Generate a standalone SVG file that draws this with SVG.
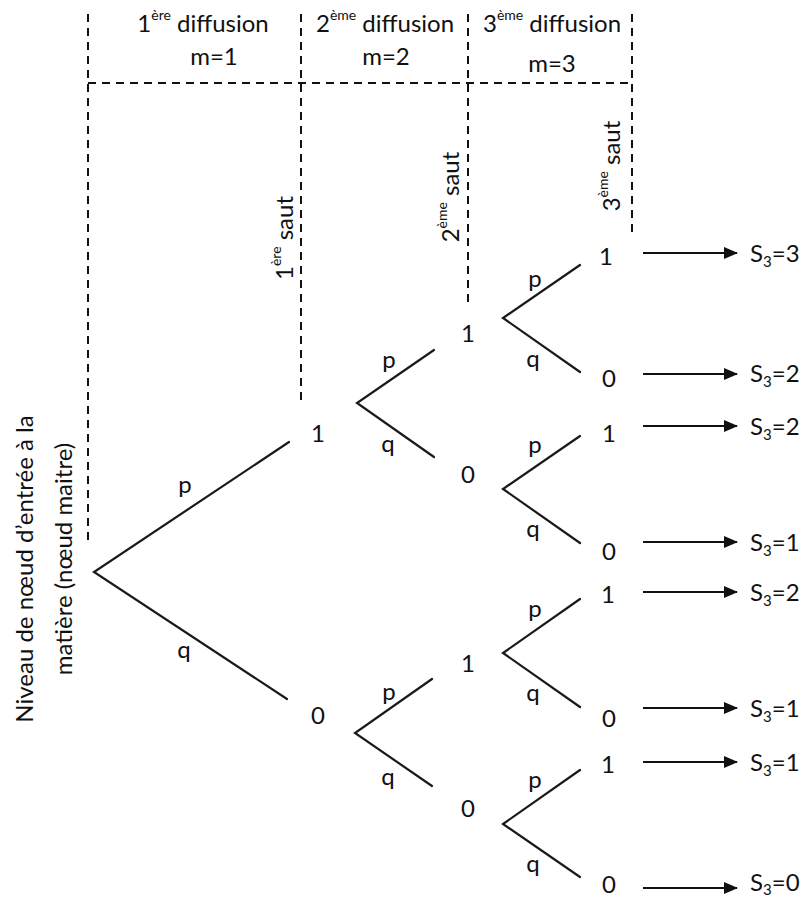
<svg xmlns="http://www.w3.org/2000/svg" width="803" height="899" viewBox="0 0 803 899">
<style>
text { font-family: Lato, "Liberation Sans", sans-serif; font-size: 24px; fill: #111; }
.sup { font-size: 14px; }
.sub { font-size: 15px; }
.dash { stroke: #111; stroke-width: 2; stroke-dasharray: 8 6; fill: none; }
.br { stroke: #1a1a1a; stroke-width: 2.2; fill: none; stroke-linecap: round; }
.ar { stroke: #111; stroke-width: 2.2; fill: none; }
</style>
<defs>
<marker id="ah" markerUnits="userSpaceOnUse" markerWidth="14" markerHeight="12" refX="13" refY="6" orient="auto">
<path d="M0,0 L14,6 L0,12 z" fill="#111"/>
</marker>
</defs>
<rect width="803" height="899" fill="#fff"/>

<g id="grid">
<line class="dash" x1="88" y1="14" x2="88" y2="543"/>
<line class="dash" x1="301" y1="14" x2="301" y2="405"/>
<line class="dash" x1="468" y1="14" x2="468" y2="305"/>
<line class="dash" x1="632" y1="14" x2="632" y2="233"/>
<line class="dash" x1="88" y1="83" x2="632" y2="83"/>
</g>

<g id="headers">
<text x="203" y="32" text-anchor="middle">1<tspan class="sup" dy="-12">ère</tspan><tspan dy="12"> diffusion</tspan></text>
<text x="385" y="32" text-anchor="middle">2<tspan class="sup" dy="-12">ème</tspan><tspan dy="12"> diffusion</tspan></text>
<text x="552" y="32" text-anchor="middle">3<tspan class="sup" dy="-12">ème</tspan><tspan dy="12"> diffusion</tspan></text>
<text x="214" y="65" text-anchor="middle">m=1</text>
<text x="386" y="65" text-anchor="middle">m=2</text>
<text x="552" y="72" text-anchor="middle">m=3</text>
<text transform="translate(293,238) rotate(-90)" text-anchor="middle">1<tspan class="sup" dy="-12">ère</tspan><tspan dy="12"> saut</tspan></text>
<text transform="translate(459,197) rotate(-90)" text-anchor="middle">2<tspan class="sup" dy="-12">ème</tspan><tspan dy="12"> saut</tspan></text>
<text transform="translate(620,166) rotate(-90)" text-anchor="middle">3<tspan class="sup" dy="-12">ème</tspan><tspan dy="12"> saut</tspan></text>
<text transform="translate(33,569) rotate(-90)" text-anchor="middle">Niveau de nœud d’entrée à la</text>
<text transform="translate(72,559) rotate(-90)" text-anchor="middle">matière (nœud maitre)</text>
</g>

<g id="connectors">
<polyline class="br" points="289,442 94,572 287,699"/>
<polyline class="br" points="434,350 357,403 434,457"/>
<polyline class="br" points="432,679 355,733 432,786"/>
<polyline class="br" points="580,265 503,318 580,372"/>
<polyline class="br" points="580,436 503,489 580,543"/>
<polyline class="br" points="580,599 503,653 580,707"/>
<polyline class="br" points="580,770 503,824 580,877"/>
<line class="ar" x1="643" y1="253" x2="737" y2="253" marker-end="url(#ah)"/>
<line class="ar" x1="643" y1="374" x2="737" y2="374" marker-end="url(#ah)"/>
<line class="ar" x1="643" y1="426" x2="737" y2="426" marker-end="url(#ah)"/>
<line class="ar" x1="643" y1="542" x2="737" y2="542" marker-end="url(#ah)"/>
<line class="ar" x1="643" y1="592" x2="737" y2="592" marker-end="url(#ah)"/>
<line class="ar" x1="643" y1="708" x2="737" y2="708" marker-end="url(#ah)"/>
<line class="ar" x1="643" y1="762" x2="737" y2="762" marker-end="url(#ah)"/>
<line class="ar" x1="643" y1="888" x2="737" y2="888" marker-end="url(#ah)"/>
</g>

<g id="branch-labels" text-anchor="middle">
<text x="185" y="493">p</text>
<text x="184" y="658">q</text>
<text x="389" y="368">p</text>
<text x="388" y="452">q</text>
<text x="389" y="700">p</text>
<text x="388" y="785">q</text>
<text x="535" y="287">p</text>
<text x="533" y="367">q</text>
<text x="535" y="453">p</text>
<text x="533" y="537">q</text>
<text x="535" y="617">p</text>
<text x="533" y="701">q</text>
<text x="535" y="788">p</text>
<text x="533" y="872">q</text>
</g>

<g id="n1-1"><text x="318" y="442" text-anchor="middle">1</text></g>
<g id="n1-0"><text x="318" y="724" text-anchor="middle">0</text></g>
<g id="n2-11"><text x="468" y="342" text-anchor="middle">1</text></g>
<g id="n2-10"><text x="468" y="483" text-anchor="middle">0</text></g>
<g id="n2-01"><text x="468" y="672" text-anchor="middle">1</text></g>
<g id="n2-00"><text x="468" y="817" text-anchor="middle">0</text></g>
<g id="n3-111"><text x="606" y="265" text-anchor="middle">1</text></g>
<g id="n3-110"><text x="609" y="387" text-anchor="middle">0</text></g>
<g id="n3-101"><text x="609" y="442" text-anchor="middle">1</text></g>
<g id="n3-100"><text x="609" y="560" text-anchor="middle">0</text></g>
<g id="n3-011"><text x="608" y="603" text-anchor="middle">1</text></g>
<g id="n3-010"><text x="609" y="727" text-anchor="middle">0</text></g>
<g id="n3-001"><text x="608" y="773" text-anchor="middle">1</text></g>
<g id="n3-000"><text x="609" y="893" text-anchor="middle">0</text></g>

<g id="r1"><text x="750" y="262">S<tspan class="sub" dy="5">3</tspan><tspan dy="-5">=3</tspan></text></g>
<g id="r2"><text x="750" y="382">S<tspan class="sub" dy="5">3</tspan><tspan dy="-5">=2</tspan></text></g>
<g id="r3"><text x="750" y="435">S<tspan class="sub" dy="5">3</tspan><tspan dy="-5">=2</tspan></text></g>
<g id="r4"><text x="750" y="551">S<tspan class="sub" dy="5">3</tspan><tspan dy="-5">=1</tspan></text></g>
<g id="r5"><text x="750" y="601">S<tspan class="sub" dy="5">3</tspan><tspan dy="-5">=2</tspan></text></g>
<g id="r6"><text x="750" y="717">S<tspan class="sub" dy="5">3</tspan><tspan dy="-5">=1</tspan></text></g>
<g id="r7"><text x="750" y="771">S<tspan class="sub" dy="5">3</tspan><tspan dy="-5">=1</tspan></text></g>
<g id="r8"><text x="750" y="891">S<tspan class="sub" dy="4">3</tspan><tspan dy="-4">=0</tspan></text></g>
</svg>
